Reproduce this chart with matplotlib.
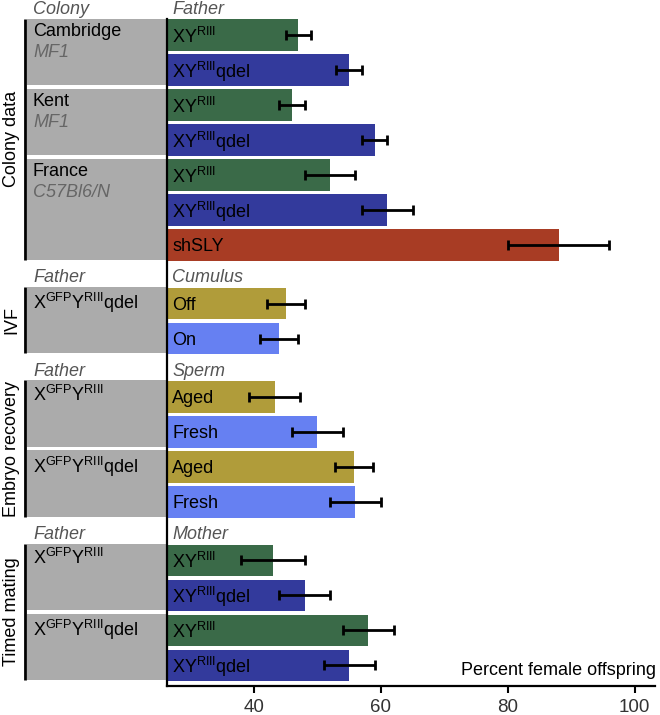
import numpy as np
import matplotlib
matplotlib.use("Agg")
import matplotlib.pyplot as plt
from matplotlib.patches import Rectangle
from matplotlib.transforms import blended_transform_factory

plt.rcParams['font.family'] = ['Liberation Sans', 'DejaVu Sans']
plt.rcParams['mathtext.fontset'] = 'custom'
plt.rcParams['mathtext.rm'] = 'Liberation Sans'
plt.rcParams['mathtext.it'] = 'Liberation Sans:italic'

XY = r"XY$^{\mathrm{RIII}}$"
XYQ = r"XY$^{\mathrm{RIII}}$qdel"
GFP = r"X$^{\mathrm{GFP}}$Y$^{\mathrm{RIII}}$"
GFPQ = r"X$^{\mathrm{GFP}}$Y$^{\mathrm{RIII}}$qdel"

# experiment groups
group_names = ["Colony data", "IVF", "Embryo recovery", "Timed mating"]
left_headers = ["Colony", "Father", "Father", "Father"]
right_headers = ["Father", "Cumulus", "Sperm", "Mother"]

# boxes on the left: (label, sublabel, number of bars)
boxes = [
    [("Cambridge", "MF1", 2), ("Kent", "MF1", 2), ("France", "C57Bl6/N", 3)],
    [(GFPQ, "", 2)],
    [(GFP, "", 2), (GFPQ, "", 2)],
    [(GFP, "", 2), (GFPQ, "", 2)],
]

bar_labels = [
    [XY, XYQ, XY, XYQ, XY, XYQ, "shSLY"],
    ["Off", "On"],
    ["Aged", "Fresh", "Aged", "Fresh"],
    [XY, XYQ, XY, XYQ],
]
values = [
    [47, 55, 46, 59, 52, 61, 88],
    [45, 44],
    [43.3, 50, 55.8, 56],
    [43, 48, 58, 55],
]
errors = [
    [2, 2, 2, 2, 4, 4, 8],
    [3, 3],
    [4, 4, 3, 4],
    [5, 4, 4, 4],
]
colors = {"green": "#3a6a48", "blue": "#333a9c", "red": "#a83c24",
          "gold": "#b09c3a", "light": "#6680f2"}
bar_colors = [
    ["green", "blue", "green", "blue", "green", "blue", "red"],
    ["gold", "light"],
    ["gold", "light", "gold", "light"],
    ["green", "blue", "green", "blue"],
]

FS = 13

fig = plt.figure(figsize=(6.6, 7.15), dpi=100)
ax = fig.add_axes([167 / 660, 1 - 686 / 715, 488 / 660, 667 / 715])

# row positions: one unit per bar, extra gap for each group header
ys = []
y = 1.0
for g in range(len(values)):
    rows = []
    for i in range(len(values[g])):
        rows.append(y)
        y += 1
    ys.append(rows)
    y += 0.67

tr = blended_transform_factory(fig.transFigure, ax.transData)
x_box0 = 27 / 660
x_box1 = 167 / 660
x_line = 25 / 660
x_text = 33 / 660

for g in range(len(values)):
    yy = np.array(ys[g])
    ax.barh(yy, values[g], height=0.9, color=[colors[c] for c in bar_colors[g]],
            edgecolor='none', zorder=2)
    ax.errorbar(values[g], yy, xerr=errors[g], fmt='none', ecolor='black',
                elinewidth=2, capsize=3.5, capthick=2, zorder=3)
    for yi, lab in zip(yy, bar_labels[g]):
        ax.text(27.1, yi + 0.05, lab, ha='left', va='center', fontsize=FS, zorder=4)

    # headers
    ax.text(x_text, yy[0] - 0.73, left_headers[g], transform=tr, ha='left', va='center',
            fontsize=FS, style='italic', color='#555555')
    ax.text(27.1, yy[0] - 0.73, right_headers[g], ha='left', va='center',
            fontsize=FS, style='italic', color='#555555')

    # grey boxes
    k = 0
    for lab, sub, n in boxes[g]:
        top = yy[k] - 0.47
        bot = yy[k + n - 1] + 0.42
        ax.add_patch(Rectangle((x_box0, top), x_box1 - x_box0, bot - top, transform=tr,
                               facecolor='#ababab', edgecolor='none', clip_on=False, zorder=1))
        ax.text(x_text, top + 0.12, lab, transform=tr, ha='left', va='top', fontsize=FS)
        if sub:
            ax.text(x_text, top + 0.72, sub, transform=tr, ha='left', va='top',
                    fontsize=FS, style='italic', color='#666666')
        k += n

    # group bracket and label
    gtop = yy[0] - 0.47
    gbot = yy[-1] + 0.42
    ax.plot([x_line, x_line], [gtop, gbot], transform=tr, color='black', lw=2,
            clip_on=False, solid_capstyle='butt')
    ax.text(12 / 660, (gtop + gbot) / 2, group_names[g], transform=tr, rotation=90,
            ha='center', va='center', fontsize=FS)

ax.set_xlim(26.3, 103.2)
ax.set_ylim(19.6, 0.54)
ax.set_yticks([])
ax.set_xticks([40, 60, 80, 100])
ax.tick_params(axis='x', labelsize=FS + 0.5, labelcolor='#333333', color='black',
               length=5, width=1.5, pad=4)
for s in ['top', 'right']:
    ax.spines[s].set_visible(False)
for s in ['left', 'bottom']:
    ax.spines[s].set_linewidth(1.6)
ax.patch.set_alpha(0)
ax.text(103.3, 19.15, "Percent female offspring", ha='right', va='center', fontsize=FS)

fig.savefig("out.png", dpi=100)
